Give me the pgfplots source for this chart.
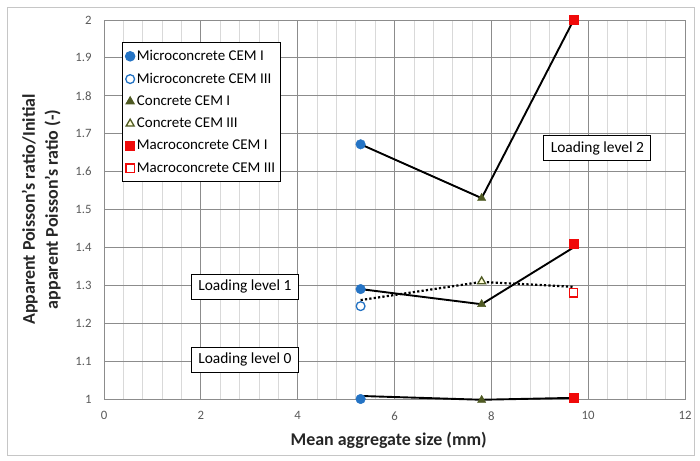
\documentclass[border=0pt]{standalone}
\usepackage{pgfplots}
\pgfplotsset{compat=1.18}
\usepackage{fontspec}
\setmainfont{Carlito}
\definecolor{mblue}{HTML}{2473C4}
\definecolor{molive}{HTML}{4F5A23}
\definecolor{mred}{HTML}{F00A0A}
\definecolor{gmaj}{HTML}{8C8C8C}
\definecolor{gmin}{HTML}{D9D9D9}
\definecolor{tickc}{HTML}{595959}
\begin{document}
\begin{tikzpicture}[x=1bp,y=1bp]
\useasboundingbox (-104bp,-62bp) rectangle (596bp,399bp);
\draw[gray!45, line width=0.8bp] (-97bp,-56bp) rectangle (590bp,392bp);
\begin{axis}[
  scale only axis,
  width=581bp, height=379bp,
  xmin=0, xmax=12, ymin=1, ymax=2,
  xtick={0,2,...,12}, ytick={1,1.1,...,2.01},
  yticklabels={1,1.1,1.2,1.3,1.4,1.5,1.6,1.7,1.8,1.9,2},
  minor x tick num=4,
  grid=both,
  major grid style={gmaj, line width=0.8bp},
  minor grid style={gmin, line width=0.6bp},
  axis line style={gmaj, line width=0.8bp},
  major tick length=0pt, minor tick length=0pt,
  /pgf/number format/assume math mode=true,
  ticklabel style={font=\fontsize{12.8}{14}\selectfont, text=tickc},
  yticklabel style={xshift=-9bp},
  xticklabel style={yshift=-9bp},
  xlabel={\textbf{Mean aggregate size (mm)}},
  ylabel={\textbf{Apparent Poisson's ratio/Initial}\\\textbf{apparent Poisson's ratio (-)}},
  label style={font=\fontsize{18}{23}\selectfont, text=black!85},
  xlabel style={at={(axis description cs:0.49,-0.108)}, anchor=center},
  ylabel style={at={(axis description cs:-0.108,0.5)}, anchor=center, align=center},
  legend style={at={(axis cs:0.37,1.942)}, anchor=north west, draw=black, line width=0.9bp,
    font=\fontsize{15}{17}\selectfont, row sep=7bp, inner xsep=3bp, inner ysep=6bp,
    /tikz/every even column/.append style={column sep=3bp}},
  legend cell align=left,
  clip=false,
]
% lines (not in legend)
\addplot[black, line width=1.9bp, forget plot] coordinates {(5.3,1.008) (7.8,0.998) (9.7,1.003)};
\addplot[black, line width=1.9bp, forget plot] coordinates {(5.3,1.29) (7.8,1.25) (9.7,1.40)};
\addplot[black, line width=2.2bp, dash pattern=on 2.2bp off 2.2bp, forget plot] coordinates {(5.3,1.261) (7.8,1.309) (9.7,1.296)};
\addplot[black, line width=1.9bp, forget plot] coordinates {(5.3,1.672) (7.8,1.53) (9.7,2.0)};
% markers
\addplot[only marks, mark=*, mark size=4.8bp, mblue, mark options={draw=mblue, fill=mblue}] coordinates {(5.3,1.0) (5.3,1.29) (5.3,1.672)};
\addlegendentry{Microconcrete CEM I}
\addplot[only marks, mark=*, mark size=4.4bp, mblue, mark options={draw=mblue, fill=white, line width=1.3bp}] coordinates {(5.3,1.245)};
\addlegendentry{Microconcrete CEM III}
\addplot[only marks, mark=triangle*, mark size=4.8bp, molive, mark options={draw=molive, fill=molive}] coordinates {(7.8,0.997) (7.8,1.25) (7.8,1.53)};
\addlegendentry{Concrete CEM I}
\addplot[only marks, mark=triangle*, mark size=4.6bp, molive, mark options={draw=molive, fill=white!85!yellow, line width=1.3bp}] coordinates {(7.8,1.31)};
\addlegendentry{Concrete CEM III}
\addplot[only marks, mark=square*, mark size=4.5bp, mred, mark options={draw=mred, fill=mred}] coordinates {(9.7,1.003) (9.7,1.41) (9.7,2.0)};
\addlegendentry{Macroconcrete CEM I}
\addplot[only marks, mark=square*, mark size=4.2bp, mred, mark options={draw=mred, fill=white, line width=1.3bp}] coordinates {(9.7,1.28)};
\addlegendentry{Macroconcrete CEM III}
% labels
\node[draw=black, line width=0.9bp, fill=white, font=\fontsize{15.5}{17}\selectfont, inner xsep=7bp, inner ysep=6bp] at (axis cs:10.19,1.662) {Loading level 2};
\node[draw=black, line width=0.9bp, fill=white, font=\fontsize{15.5}{17}\selectfont, inner xsep=7bp, inner ysep=6bp] at (axis cs:2.91,1.296) {Loading level 1};
\node[draw=black, line width=0.9bp, fill=white, font=\fontsize{15.5}{17}\selectfont, inner xsep=7bp, inner ysep=6bp] at (axis cs:2.91,1.103) {Loading level 0};
\end{axis}
\end{tikzpicture}
\end{document}
